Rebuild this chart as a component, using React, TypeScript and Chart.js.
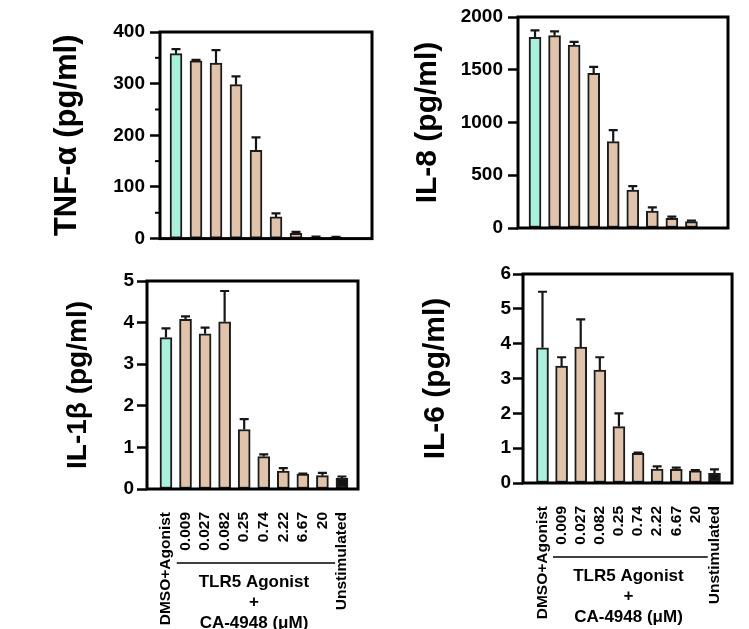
import React, { useEffect, useRef } from 'react';
import { Chart, registerables } from 'chart.js';

Chart.register(...registerables);

// ---------- data ----------
const categories = ['DMSO+Agonist', '0.009', '0.027', '0.082', '0.25', '0.74', '2.22', '6.67', '20', 'Unstimulated'];

const tnfValues = [358, 344, 340, 298, 171, 42, 10, 3, 2.5, 0];
const tnfErrors = [9, 2, 25, 16, 25, 7, 3, 1, 1, 0];
const tnfTicks = [0, 100, 200, 300, 400];
const tnfMinorTicks = [50, 150, 250, 350];

const il8Values = [1808, 1823, 1735, 1466, 818, 360, 161, 92, 60, 5];
const il8Errors = [65, 40, 30, 62, 110, 36, 35, 16, 10, 0];
const il8Ticks = [0, 500, 1000, 1500, 2000];

const il1bValues = [3.64, 4.08, 3.73, 4.02, 1.43, 0.78, 0.43, 0.36, 0.32, 0.26];
const il1bErrors = [0.22, 0.07, 0.15, 0.74, 0.25, 0.05, 0.07, 0.01, 0.07, 0.04];
const il1bTicks = [0, 1, 2, 3, 4, 5];

const il6Values = [3.88, 3.36, 3.9, 3.24, 1.62, 0.85, 0.4, 0.39, 0.35, 0.28];
const il6Errors = [1.61, 0.25, 0.8, 0.37, 0.38, 0.02, 0.08, 0.05, 0.02, 0.11];
const il6Ticks = [0, 1, 2, 3, 4, 5, 6];

const groupLabelLines = ['TLR5 Agonist', '+', 'CA-4948 (\u03BCM)'];

// ---------- styles ----------
const FONT = '"Liberation Sans", Arial, Helvetica, sans-serif';
const TEAL = '#a9f1dc';
const TAN = '#e0c3aa';
const BLACK = '#141414';
const barColors = categories.map((_, i) => (i === 0 ? TEAL : i === categories.length - 1 ? BLACK : TAN));

type PanelProps = {
  left: number;
  top: number;
  width: number;
  height: number;
  area: { l: number; t: number; r: number; b: number };
  xMin: number;
  xMax: number;
  title: string;
  titleSize: number;
  titlePad: number;
  values: number[];
  errors: number[];
  yTicks: number[];
  minorTicks?: number[];
  showX: boolean;
  tickPad: number;
};

function Panel(p: PanelProps) {
  const ref = useRef<HTMLCanvasElement | null>(null);

  useEffect(() => {
    const canvas = ref.current;
    if (!canvas) return;

    const decor = {
      id: 'decor',
      afterDatasetsDraw(chart: any) {
        const ctx = chart.ctx;
        const meta = chart.getDatasetMeta(0);
        const ys = chart.scales.y;
        ctx.save();
        ctx.strokeStyle = '#161616';
        ctx.lineWidth = 2.2;
        meta.data.forEach((bar: any, i: number) => {
          const e = p.errors[i];
          if (!e) return;
          const yTop = ys.getPixelForValue(p.values[i] + e);
          ctx.beginPath();
          ctx.moveTo(bar.x, bar.y);
          ctx.lineTo(bar.x, yTop);
          ctx.moveTo(bar.x - 4.5, yTop);
          ctx.lineTo(bar.x + 4.5, yTop);
          ctx.stroke();
        });
        ctx.restore();
      },
      afterDraw(chart: any) {
        const ctx = chart.ctx;
        const a = chart.chartArea;
        const xs = chart.scales.x;
        const ys = chart.scales.y;
        ctx.save();
        ctx.strokeStyle = '#000';
        ctx.lineWidth = 3;
        ctx.strokeRect(a.left, a.top, a.right - a.left, a.bottom - a.top);
        if (p.minorTicks) {
          ctx.lineWidth = 2;
          p.minorTicks.forEach((v) => {
            const y = ys.getPixelForValue(v);
            ctx.beginPath();
            ctx.moveTo(a.left - 5, y);
            ctx.lineTo(a.left, y);
            ctx.stroke();
          });
        }
        if (p.showX) {
          const x1 = xs.getPixelForValue(0.55);
          const x2 = xs.getPixelForValue(8.65);
          const xc = xs.getPixelForValue(4.5);
          ctx.lineWidth = 1.5;
          ctx.beginPath();
          ctx.moveTo(x1, a.bottom + 74);
          ctx.lineTo(x2, a.bottom + 74);
          ctx.stroke();
          ctx.fillStyle = '#000';
          ctx.font = 'bold 17px ' + FONT;
          ctx.textAlign = 'center';
          ctx.textBaseline = 'middle';
          const offs = [93, 113, 134];
          groupLabelLines.forEach((t, i) => ctx.fillText(t, xc, a.bottom + offs[i]));
        }
        ctx.restore();
      },
    };

    const chart = new Chart(canvas, {
      type: 'bar',
      data: {
        datasets: [
          {
            data: categories.map((_, i) => ({ x: i, y: p.values[i] })),
            backgroundColor: barColors,
            borderColor: '#1c1c1c',
            borderWidth: 2,
            borderSkipped: false,
            barThickness: 12,
          } as any,
        ],
      },
      options: {
        responsive: false,
        animation: false,
        layout: { padding: { left: 0, top: p.area.t, right: p.width - p.area.r, bottom: 0 } },
        plugins: { legend: { display: false }, tooltip: { enabled: false } },
        scales: {
          x: {
            type: 'linear',
            min: p.xMin,
            max: p.xMax,
            offset: false,
            afterBuildTicks: (s: any) => {
              s.ticks = categories.map((_, i) => ({ value: i }));
            },
            afterFit: (s: any) => {
              s.height = p.height - p.area.b;
            },
            grid: { display: false },
            border: { display: false },
            ticks: {
              display: p.showX,
              autoSkip: false,
              minRotation: 90,
              maxRotation: 90,
              padding: 15,
              color: '#000',
              font: { family: FONT, size: 15.5, weight: 'bold' },
              callback: (v: any) => categories[Math.round(Number(v))] ?? '',
            },
          },
          y: {
            min: 0,
            max: p.yTicks[p.yTicks.length - 1],
            afterBuildTicks: (s: any) => {
              s.ticks = p.yTicks.map((v) => ({ value: v }));
            },
            afterFit: (s: any) => {
              s.width = p.area.l;
            },
            grid: { drawOnChartArea: false, drawTicks: true, tickLength: 10, tickWidth: 2.5, tickColor: '#000' },
            border: { display: false },
            ticks: {
              padding: p.tickPad,
              color: '#000',
              font: { family: FONT, size: 19, weight: 'bold' },
              callback: (v: any) => String(v),
            },
            title: {
              display: true,
              text: p.title,
              color: '#000',
              font: { family: FONT, size: p.titleSize, weight: 'bold', lineHeight: 1.2 },
              padding: { top: p.titlePad, bottom: 0 },
            },
          },
        },
      } as any,
      plugins: [decor],
    });
    return () => chart.destroy();
  }, []);

  return (
    <div style={{ position: 'absolute', left: p.left, top: p.top, width: p.width, height: p.height }}>
      <canvas ref={ref} width={p.width} height={p.height} style={{ width: p.width, height: p.height, display: 'block' }} />
    </div>
  );
}

export default function App() {
  return (
    <div style={{ position: 'absolute', left: 0, top: 0, width: 749, height: 629, background: '#fff', overflow: 'hidden' }}>
      <Panel
        left={0} top={0} width={380} height={255}
        area={{ l: 160, t: 32, r: 372, b: 243 }}
        xMin={-0.8} xMax={9.8}
        title={'TNF-\u03B1 (pg/ml)'} titleSize={31} titlePad={49}
        values={tnfValues} errors={tnfErrors} yTicks={tnfTicks} minorTicks={tnfMinorTicks}
        showX={false} tickPad={5}
      />
      <Panel
        left={380} top={0} width={369} height={255}
        area={{ l: 138, t: 17, r: 348, b: 228 }}
        xMin={-0.87} xMax={9.87}
        title={'IL-8 (pg/ml)'} titleSize={30} titlePad={30}
        values={il8Values} errors={il8Errors} yTicks={il8Ticks}
        showX={false} tickPad={5}
      />
      <Panel
        left={0} top={255} width={380} height={374}
        area={{ l: 147, t: 26, r: 358, b: 234 }}
        xMin={-0.97} xMax={9.82}
        title={'IL-1\u03B2 (pg/ml)'} titleSize={28} titlePad={61}
        values={il1bValues} errors={il1bErrors} yTicks={il1bTicks}
        showX={true} tickPad={3}
      />
      <Panel
        left={380} top={255} width={369} height={374}
        area={{ l: 143, t: 19, r: 358, b: 228 }}
        xMin={-1.02} xMax={9.92}
        title={'IL-6 (pg/ml)'} titleSize={30} titlePad={38}
        values={il6Values} errors={il6Errors} yTicks={il6Ticks}
        showX={true} tickPad={2}
      />
    </div>
  );
}
